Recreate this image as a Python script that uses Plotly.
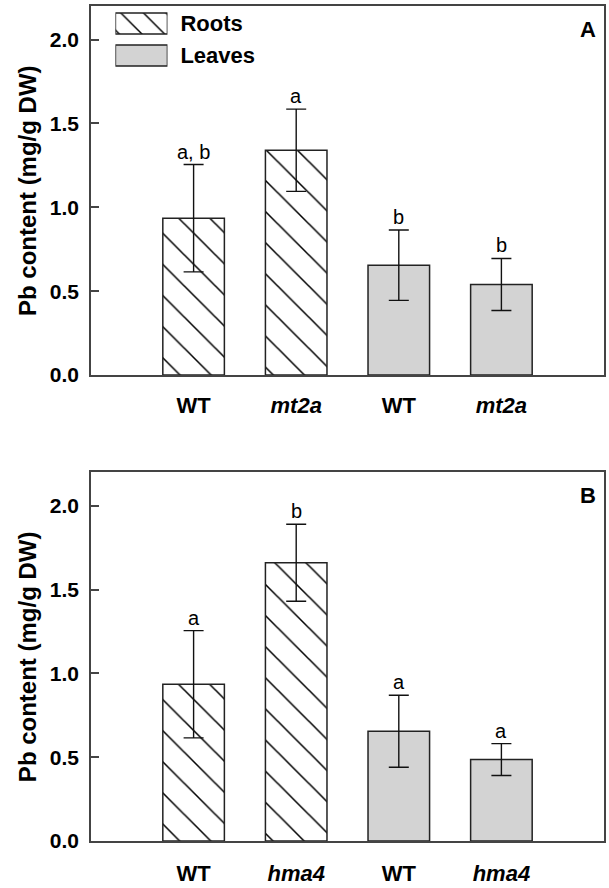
import plotly.graph_objects as go

# Pb content, roots vs leaves (panel A: mt2a, panel B: hma4)
positions = [0, 1, 2, 3]
tissue = ["Roots", "Roots", "Leaves", "Leaves"]

labels_a = ["WT", "mt2a", "WT", "mt2a"]
values_a = [0.935, 1.34, 0.655, 0.54]
errors_a = [0.32, 0.245, 0.21, 0.155]
letters_a = ["a, b", "a", "b", "b"]

labels_b = ["WT", "hma4", "WT", "hma4"]
values_b = [0.935, 1.66, 0.655, 0.486]
errors_b = [0.32, 0.23, 0.215, 0.095]
letters_b = ["a", "b", "a", "a"]

y_ticks = [0.0, 0.5, 1.0, 1.5, 2.0]

FONT = "Liberation Sans, Arial, sans-serif"
EDGE = "#222222"
GREY = "#d3d3d3"

fig = go.Figure()


def tick_text(labels):
    out = []
    for lab in labels:
        if lab == "WT":
            out.append("<b>WT</b>")
        else:
            out.append("<b><i>%s</i></b>" % lab)
    return out


def add_panel(n, values, errors, letters):
    xa, ya = ("x", "y") if n == 1 else ("x%d" % n, "y%d" % n)
    for t in ["Roots", "Leaves"]:
        idx = [i for i in range(4) if tissue[i] == t]
        marker = dict(line=dict(color=EDGE, width=1.5))
        if t == "Roots":
            marker["color"] = "white"
            marker["pattern"] = dict(shape="\\", size=22, solidity=0.07,
                                     fgcolor="#000000", fgopacity=1,
                                     bgcolor="white")
        else:
            marker["color"] = GREY
        fig.add_trace(go.Bar(
            x=[positions[i] for i in idx],
            y=[values[i] for i in idx],
            error_y=dict(type="data", array=[errors[i] for i in idx],
                         color="#111111", thickness=1.4, width=10),
            marker=marker, width=0.6, showlegend=False,
            xaxis=xa, yaxis=ya,
        ))
    for i in range(4):
        fig.add_annotation(
            x=positions[i], y=values[i] + errors[i], xref=xa, yref=ya,
            text=letters[i], showarrow=False, yanchor="bottom", yshift=0,
            font=dict(size=20, color="black", family=FONT),
        )


add_panel(1, values_a, errors_a, letters_a)
add_panel(2, values_b, errors_b, letters_b)

# legend swatches drawn as tiny horizontal bars on their own axes
fig.add_trace(go.Bar(
    y=["Roots"], x=[1], orientation="h", width=0.66,
    marker=dict(color="white", line=dict(color=EDGE, width=1.5),
                pattern=dict(shape="\\", size=16, solidity=0.09,
                             fgcolor="#000000", fgopacity=1,
                             bgcolor="white")),
    xaxis="x3", yaxis="y3", showlegend=False, hoverinfo="skip",
))
fig.add_trace(go.Bar(
    y=["Leaves"], x=[1], orientation="h", width=0.66,
    marker=dict(color=GREY, line=dict(color=EDGE, width=1.5)),
    xaxis="x3", yaxis="y3", showlegend=False, hoverinfo="skip",
))

axis_common = dict(showline=True, linecolor="#444444", linewidth=1.5,
                   mirror=True, showgrid=False, zeroline=False,
                   automargin=False)

x_common = dict(axis_common, range=[-1, 4], tickvals=positions, ticks="",
                tickfont=dict(size=22, color="black", family=FONT))
y_common = dict(axis_common, range=[0, 2.2], tickvals=y_ticks,
                ticktext=["<b>%.1f</b>" % v for v in y_ticks],
                ticks="inside", ticklen=8, tickwidth=1.5, tickcolor="#444444",
                ticklabelstandoff=6,
                tickfont=dict(size=21, color="black", family=FONT))

fig.update_layout(
    width=609, height=888,
    margin=dict(l=91, r=5, t=6, b=47),
    paper_bgcolor="white", plot_bgcolor="white",
    barmode="overlay", showlegend=False,
    font=dict(family=FONT, color="black"),
    xaxis=dict(x_common, anchor="y", ticktext=tick_text(labels_a),
               ticklabelstandoff=10),
    yaxis=dict(y_common, anchor="x", domain=[0.558, 1.0]),
    xaxis2=dict(x_common, anchor="y2", ticktext=tick_text(labels_b),
                ticklabelstandoff=12),
    yaxis2=dict(y_common, anchor="x2", domain=[0.0, 0.4416]),
    xaxis3=dict(domain=[0.0476, 0.149], range=[0, 1], visible=False,
                anchor="y3", fixedrange=True, automargin=False),
    yaxis3=dict(domain=[0.9216, 0.9982], range=[-0.5, 1.5], anchor="x3",
                side="right", showline=False, showgrid=False, zeroline=False,
                ticks="", categoryorder="array",
                categoryarray=["Leaves", "Roots"],
                tickvals=["Roots", "Leaves"],
                ticktext=["<b>Roots</b>", "<b>Leaves</b>"],
                ticklabelstandoff=12, fixedrange=True, automargin=False,
                tickfont=dict(size=22, color="black", family=FONT)),
)

# y-axis titles and panel letters
for ya, letter in [("y", "A"), ("y2", "B")]:
    fig.add_annotation(
        xref="paper", yref=ya + " domain", x=0, y=0.5, xshift=-79,
        text="<b>Pb content (mg/g DW)</b>", textangle=-90, showarrow=False,
        font=dict(size=24, color="black", family=FONT),
    )
    fig.add_annotation(
        xref="paper", yref=ya + " domain", x=1, y=1, xanchor="right",
        yanchor="top", xshift=-6, yshift=-9, text="<b>%s</b>" % letter,
        showarrow=False, font=dict(size=22, color="black", family=FONT),
    )

fig.write_html("out.html", config={"displayModeBar": False},
               post_script="document.body.style.margin='0';")
